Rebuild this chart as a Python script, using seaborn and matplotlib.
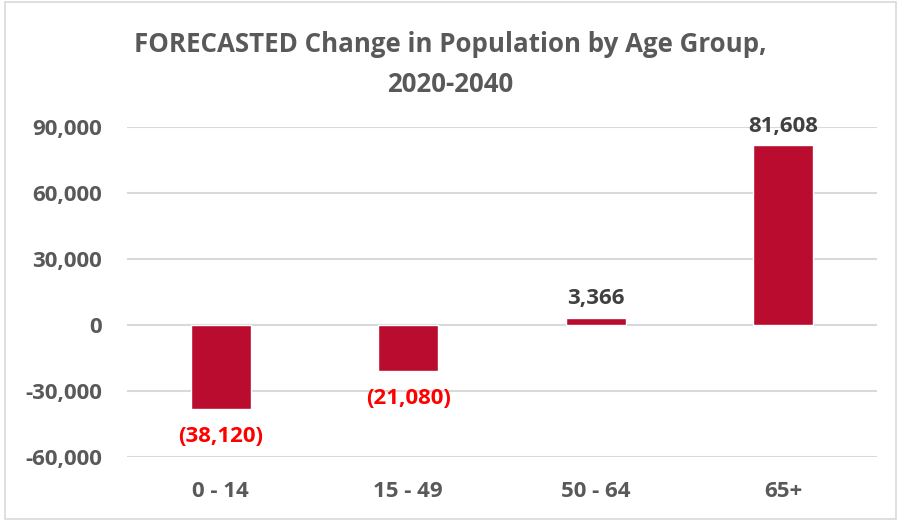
import matplotlib
matplotlib.use("Agg")
import matplotlib.pyplot as plt
import seaborn as sns
import pandas as pd
from matplotlib.patches import Rectangle

age_groups = ["0 - 14", "15 - 49", "50 - 64", "65+"]
change = [-38120, -21080, 3366, 81608]
y_ticks = [-60000, -30000, 0, 30000, 60000, 90000]

BAR = "#BA0C2F"
GREY = "#595959"
DARK = "#404040"
GRID = "#D9D9D9"

sns.set_theme(style="white")
plt.rcParams["font.family"] = ["Open Sans", "DejaVu Sans"]

df = pd.DataFrame({"age": age_groups, "change": change})

fig = plt.figure(figsize=(9.01, 5.21), dpi=100)
ax = fig.add_axes([0.141, 0.1228, 0.832, 0.6334])

sns.barplot(data=df, x="age", y="change", color=BAR, saturation=1,
            width=0.32, ax=ax, zorder=3)

ax.set_ylim(-60000, 90000)
ax.set_xlim(-0.5, 3.5)
ax.set_yticks(y_ticks)
ax.set_yticklabels([f"{v:,}" for v in y_ticks])
ax.yaxis.grid(True, color=GRID, linewidth=1.5, zorder=0)
ax.set_axisbelow(True)
for s in ax.spines.values():
    s.set_visible(False)
ax.tick_params(axis="y", length=0, pad=18, labelsize=16, labelcolor=GREY)
ax.tick_params(axis="x", length=0, pad=17, labelsize=16, labelcolor=GREY)
for lbl in ax.get_xticklabels() + ax.get_yticklabels():
    lbl.set_fontweight("bold")
ax.set_xlabel("")
ax.set_ylabel("")

for i, v in enumerate(change):
    if v < 0:
        ax.annotate(f"({abs(v):,})", (i, v), xytext=(0, -12), textcoords="offset points",
                    ha="center", va="top", fontsize=16, fontweight="bold", color="#FF0000")
    else:
        ax.annotate(f"{v:,}", (i, v), xytext=(0, 6), textcoords="offset points",
                    ha="center", va="bottom", fontsize=16, fontweight="bold", color=DARK)

fig.text(0.5, 0.94, "FORECASTED Change in Population by Age Group,\n2020-2040",
         ha="center", va="top", fontsize=18.6, fontweight="bold", color=GREY,
         linespacing=1.6)

fig.patches.append(Rectangle((0.006, 0.004), 0.989, 0.992, transform=fig.transFigure,
                             fill=False, edgecolor=GRID, linewidth=1.2))

fig.savefig("out.png", dpi=100)
